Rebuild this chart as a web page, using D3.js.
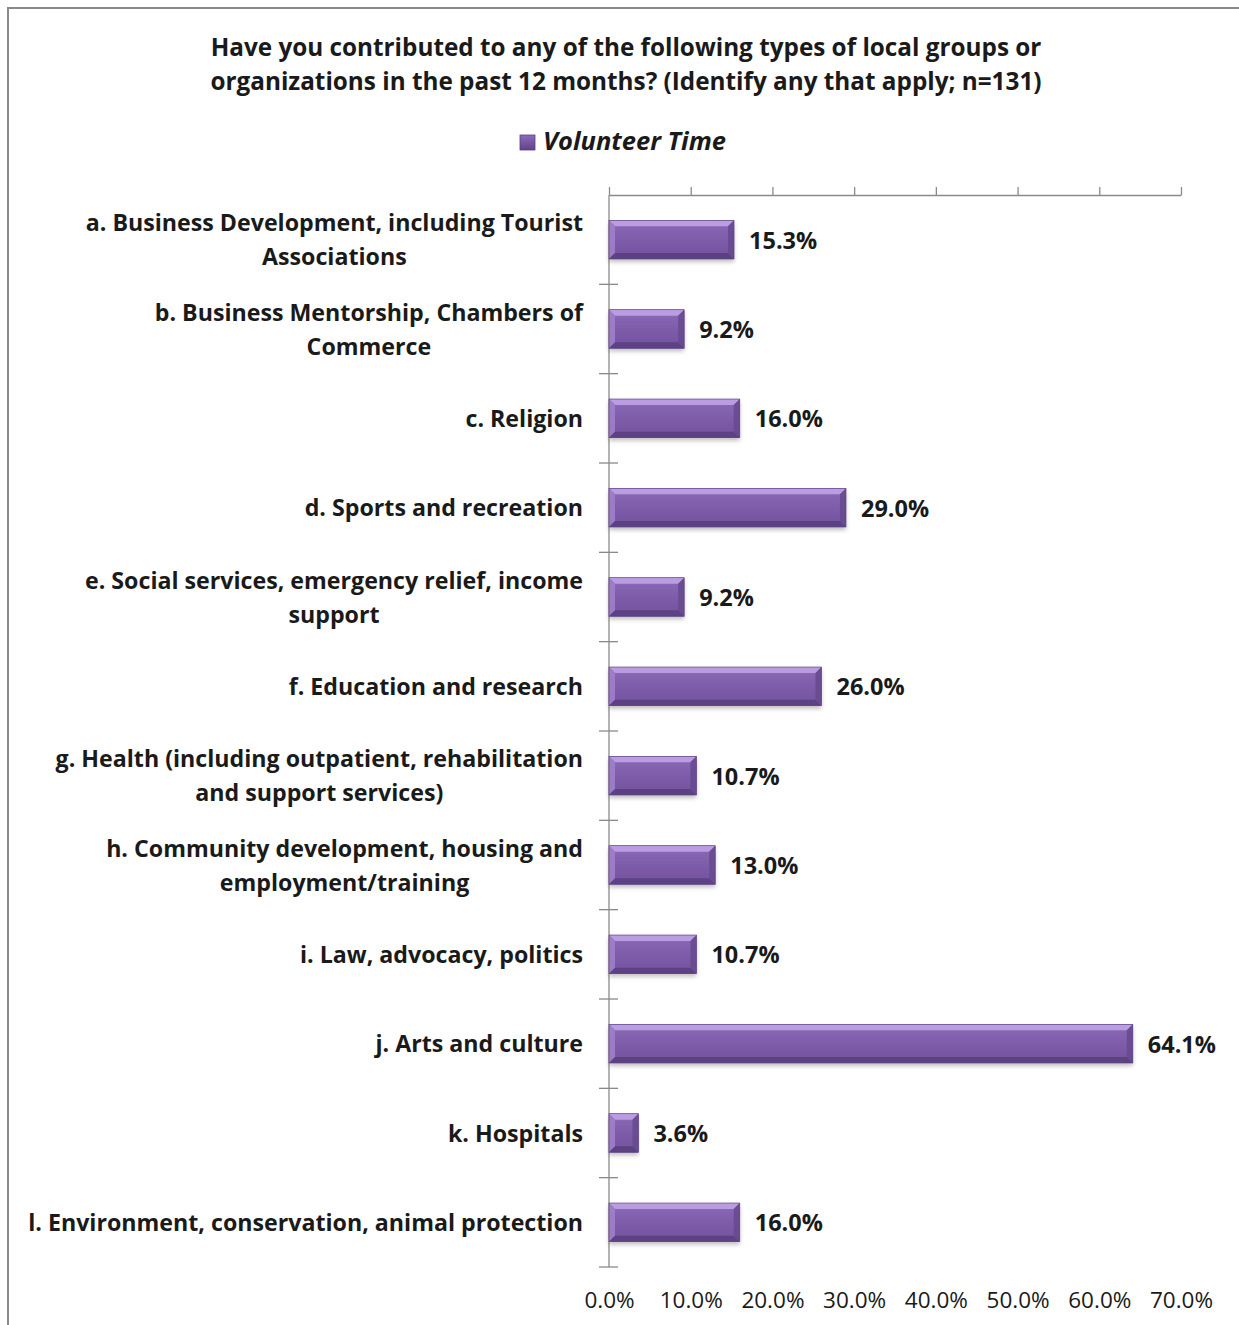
<!DOCTYPE html>
<html>
<head>
<meta charset="utf-8">
<script src="https://cdn.jsdelivr.net/npm/d3@7"></script>
<style>
  html, body { margin: 0; padding: 0; background: #fff; }
  svg { display: block; }
  text { font-family: "Open Sans", "Noto Sans", sans-serif; }
</style>
</head>
<body>
<svg id="chart" width="1239" height="1325"></svg>
<script>
// Survey question and series
const titleLines = [
  "Have you contributed to any of the following types of local groups or",
  "organizations in the past 12 months? (Identify any that apply; n=131)"
];
const seriesName = "Volunteer Time";

// Categories (each entry is the wrapped label lines)
const categories = [
  ["a. Business Development, including Tourist", "Associations"],
  ["b. Business Mentorship, Chambers of", "Commerce"],
  ["c. Religion"],
  ["d. Sports and recreation"],
  ["e. Social services, emergency relief, income", "support"],
  ["f. Education and research"],
  ["g. Health (including outpatient, rehabilitation", "and support services)"],
  ["h. Community development, housing and", "employment/training"],
  ["i. Law, advocacy, politics"],
  ["j. Arts and culture"],
  ["k. Hospitals"],
  ["l. Environment, conservation, animal protection"]
];

// Percent of respondents who volunteered time
const values = [15.3, 9.2, 16.0, 29.0, 9.2, 26.0, 10.7, 13.0, 10.7, 64.1, 3.6, 16.0];

// Value axis ticks
const tickValues = [0, 10, 20, 30, 40, 50, 60, 70];

const svg = d3.select("#chart");
const keys = categories.map(c => c.join(" "));

const x = d3.scaleLinear().domain([0, 70]).range([609, 1181]);
const y = d3.scaleBand().domain(keys).range([195, 1267])
  .paddingInner(0.568).paddingOuter(0.284);

// Outer chart frame
svg.append("rect")
  .attr("x", 8).attr("y", 8).attr("width", 1260).attr("height", 1340)
  .attr("fill", "none").attr("stroke", "#8a8a8a").attr("stroke-width", 2);

// Title
svg.append("g").selectAll("text").data(titleLines).join("text")
  .attr("x", 626).attr("y", (d, i) => 56 + i * 34)
  .attr("text-anchor", "middle")
  .attr("font-size", 24.3).attr("font-weight", 700).attr("fill", "#1a1a1a")
  .text(d => d);

// Gradients / filter for the bevelled bars
const defs = svg.append("defs");
const g1 = defs.append("linearGradient").attr("id", "barFill")
  .attr("x1", 0).attr("y1", 0).attr("x2", 0).attr("y2", 1);
g1.append("stop").attr("offset", "0%").attr("stop-color", "#8c6bb8");
g1.append("stop").attr("offset", "50%").attr("stop-color", "#7d5ca9");
g1.append("stop").attr("offset", "100%").attr("stop-color", "#73529e");

const shadow = defs.append("filter").attr("id", "barShadow")
  .attr("x", "-5%").attr("y", "-20%").attr("width", "110%").attr("height", "150%");
shadow.append("feDropShadow").attr("dx", 0).attr("dy", 3).attr("stdDeviation", 2)
  .attr("flood-color", "#000").attr("flood-opacity", 0.25);

// Legend
const legend = svg.append("g");
const lg = defs.append("linearGradient").attr("id", "legFill")
  .attr("x1", 0).attr("y1", 0).attr("x2", 0).attr("y2", 1);
lg.append("stop").attr("offset", "0%").attr("stop-color", "#8d6cba");
lg.append("stop").attr("offset", "100%").attr("stop-color", "#5f4388");
legend.append("rect").attr("x", 520).attr("y", 135).attr("width", 15).attr("height", 15)
  .attr("fill", "url(#legFill)").attr("stroke", "#5a3f80").attr("stroke-width", 0.8);
legend.append("text").attr("x", 543).attr("y", 150)
  .attr("font-size", 25.5).attr("font-weight", 700).attr("font-style", "italic")
  .attr("fill", "#1a1a1a").text(seriesName);

// Top value axis with upward ticks, no labels
const axTop = svg.append("g").attr("transform", "translate(0,195)")
  .call(d3.axisTop(x).tickValues(tickValues).tickSize(8).tickSizeOuter(0).tickFormat(""));
axTop.select(".domain").attr("stroke", "#8a8a8a").attr("stroke-width", 1.3);
axTop.selectAll(".tick line").attr("stroke", "#8a8a8a").attr("stroke-width", 1.3);

// Bottom tick labels
const axBot = svg.append("g").attr("transform", "translate(0,1292)")
  .call(d3.axisBottom(x).tickValues(tickValues).tickSize(0).tickPadding(0)
    .tickFormat(d => d3.format(".1f")(d) + "%"));
axBot.select(".domain").remove();
axBot.selectAll("text").attr("font-size", 22.5).attr("fill", "#1a1a1a")
  .attr("font-family", "'Open Sans', sans-serif");

// Category axis line and cross ticks at band boundaries
const catAx = svg.append("g");
catAx.append("line").attr("x1", x(0)).attr("x2", x(0)).attr("y1", 195).attr("y2", 1267)
  .attr("stroke", "#8a8a8a").attr("stroke-width", 1.3);
const bounds = d3.range(1, keys.length + 1).map(i => y.range()[0] + i * y.step());
catAx.selectAll("line.t").data(bounds).join("line").attr("class", "t")
  .attr("x1", x(0) - 10).attr("x2", x(0) + 9)
  .attr("y1", d => d).attr("y2", d => d)
  .attr("stroke", "#8a8a8a").attr("stroke-width", 1.3);

// Bars with bevelled edges
const bw = y.bandwidth();
const bev = 6;
const bars = svg.append("g").selectAll("g").data(values).join("g")
  .attr("transform", (d, i) => `translate(${x(0)},${y(keys[i])})`);

bars.append("rect")
  .attr("width", d => x(d) - x(0)).attr("height", bw)
  .attr("fill", "url(#barFill)").attr("filter", "url(#barShadow)");

const bevel = (sel, pts, fill, op) => sel.append("polygon")
  .attr("points", d => pts(x(d) - x(0)).map(p => p.join(",")).join(" "))
  .attr("fill", fill).attr("opacity", op);

// top facet
bevel(bars, w => [[0, 0], [w, 0], [w - bev, bev], [bev, bev]], "#bda0e4", 0.95);
// left facet
bevel(bars, w => [[0, 0], [bev, bev], [bev, bw - bev], [0, bw]], "#a080ca", 0.9);
// bottom facet
bevel(bars, w => [[0, bw], [bev, bw - bev], [w - bev, bw - bev], [w, bw]], "#5a3f80", 0.9);
// right facet
bevel(bars, w => [[w, 0], [w, bw], [w - bev, bw - bev], [w - bev, bev]], "#674a90", 0.9);

bars.append("rect")
  .attr("width", d => x(d) - x(0)).attr("height", bw)
  .attr("fill", "none").attr("stroke", "#5e4485").attr("stroke-width", 0.7);

// Value labels
svg.append("g").selectAll("text").data(values).join("text")
  .attr("x", d => x(d) + 15)
  .attr("y", (d, i) => y(keys[i]) + bw / 2 + 9)
  .attr("font-size", 23.5).attr("font-weight", 700).attr("fill", "#1a1a1a")
  .text(d => d3.format(".1f")(d) + "%");

// Category labels: block right-aligned, lines centred within the block
const labG = svg.append("g");
categories.forEach((lines, i) => {
  const cy = y(keys[i]) + bw / 2;
  const lh = 34;
  const g = labG.append("g");
  const texts = g.selectAll("text").data(lines).join("text")
    .attr("y", (d, j) => cy + 8.5 + (j - (lines.length - 1) / 2) * lh)
    .attr("font-size", 23.2).attr("font-weight", 700).attr("fill", "#1a1a1a")
    .attr("text-anchor", "middle")
    .text(d => d);
  let maxW = 0;
  texts.each(function () { maxW = Math.max(maxW, this.getComputedTextLength()); });
  texts.attr("x", 583 - maxW / 2);
});
</script>
</body>
</html>
